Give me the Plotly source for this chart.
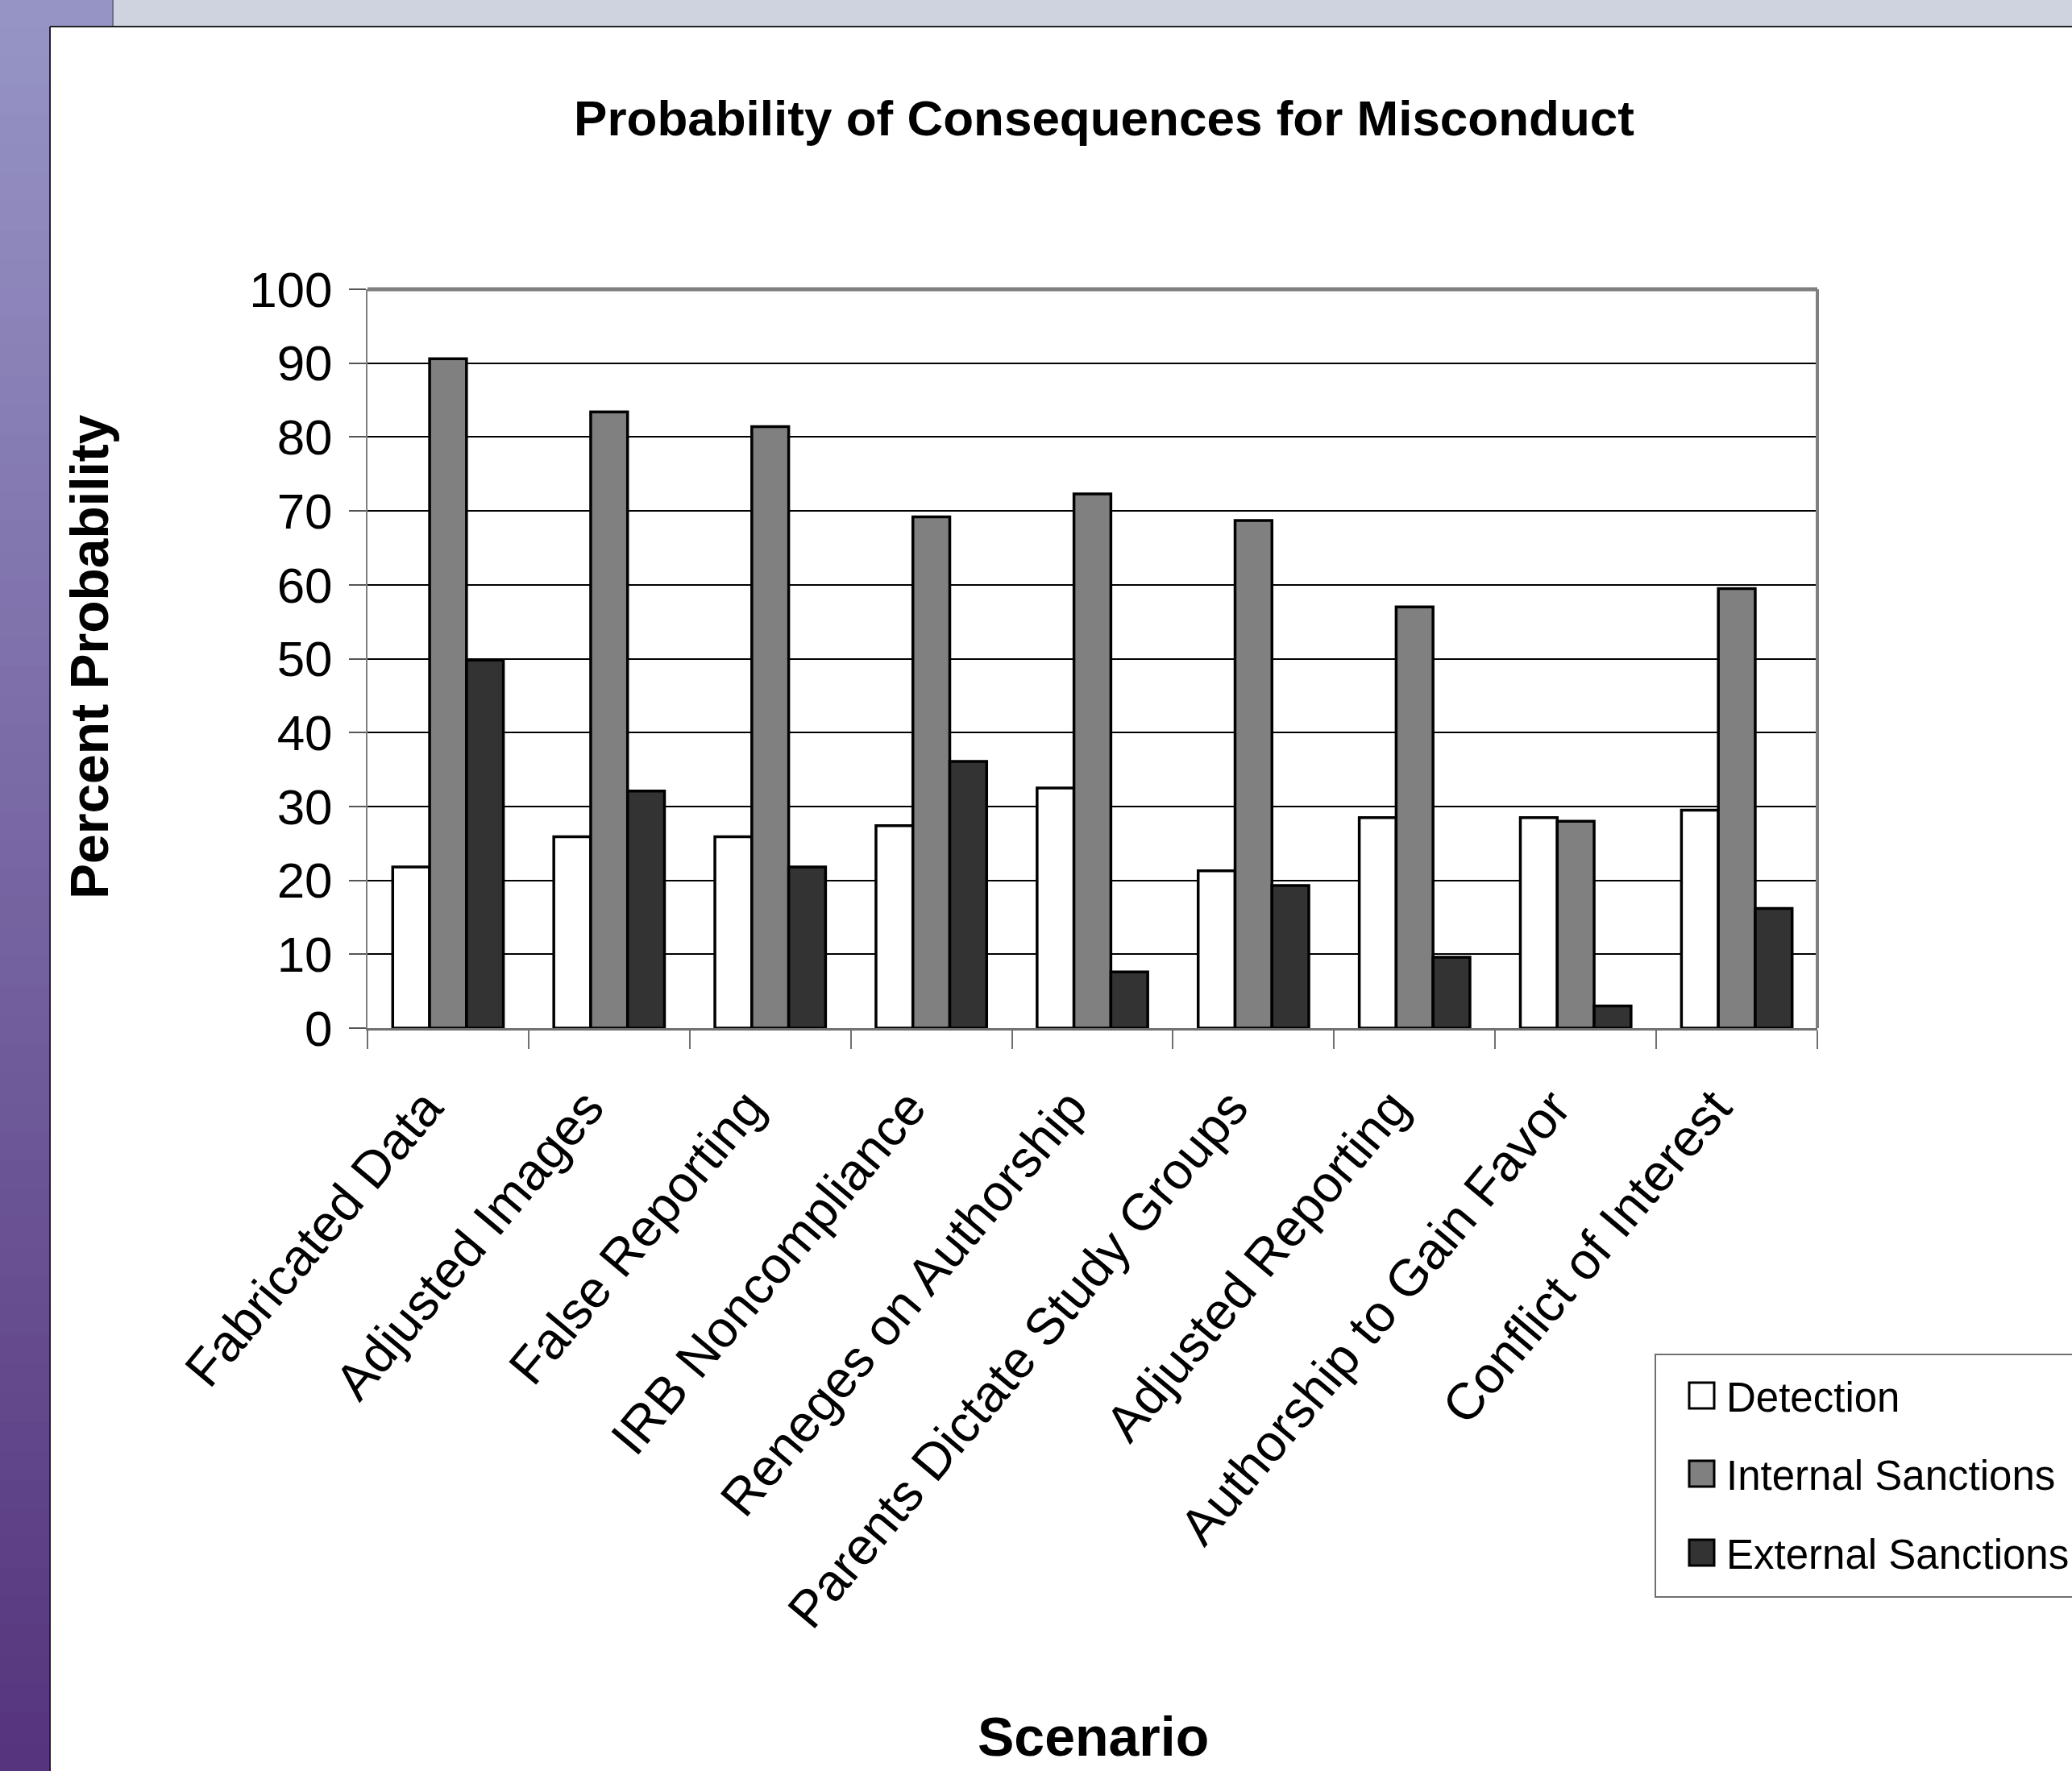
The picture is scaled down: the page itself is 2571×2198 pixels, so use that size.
import plotly.graph_objects as go

# ---------------- data ----------------
categories = ["Fabricated Data", "Adjusted Images", "False Reporting", "IRB Noncompliance",
              "Reneges on Authorship", "Parents Dictate Study Groups", "Adjusted Reporting",
              "Authorship to Gain Favor", "Conflict of Interest"]
detection = [21.8, 25.9, 25.9, 27.4, 32.5, 21.3, 28.5, 28.5, 29.5]
internal_sanctions = [90.6, 83.4, 81.4, 69.2, 72.3, 68.7, 57.0, 28.0, 59.5]
external_sanctions = [49.8, 32.1, 21.8, 36.1, 7.6, 19.3, 9.6, 3.0, 16.2]
series_names = ["Detection", "Internal Sanctions", "External Sanctions"]
series_colors = ["#FFFFFF", "#808080", "#333333"]
y_ticks = [0, 10, 20, 30, 40, 50, 60, 70, 80, 90, 100]

# ---------------- geometry (pixels) ----------------
FW, FH = 2571, 2198
L, R, T, B = 456, 2255, 359, 1276
W, H = R - L, B - T

def px_x(x):
    return (x - L) / W

def px_y(y):
    return (B - y) / H

NARROW = "Liberation Sans Narrow, Arial Narrow, Liberation Sans, Arial, sans-serif"
REG = "Liberation Sans, Arial, sans-serif"

fig = go.Figure()
for name, vals, col in zip(series_names, [detection, internal_sanctions, external_sanctions], series_colors):
    fig.add_trace(go.Bar(
        x=categories, y=vals, name=name, showlegend=False,
        marker=dict(color=col, line=dict(color="#000000", width=3.5)),
    ))

shapes = []

# left purple gradient strip
n = 60
top_c = (0x96, 0x93, 0xC5)
bot_c = (0x55, 0x34, 0x7D)
for i in range(n):
    y0 = 33 + (FH - 33) * i / n
    y1 = 33 + (FH - 33) * (i + 1) / n + 1
    t = (i + 0.5) / n
    c = tuple(int(round(a + (b - a) * t)) for a, b in zip(top_c, bot_c))
    shapes.append(dict(type="rect", xref="paper", yref="paper", layer="below",
                       x0=px_x(0), x1=px_x(62), y0=px_y(y0), y1=px_y(y1),
                       fillcolor="rgb(%d,%d,%d)" % c, line=dict(width=0)))
# top-left square and top strip
shapes.append(dict(type="rect", xref="paper", yref="paper", layer="below",
                   x0=px_x(0), x1=px_x(140), y0=px_y(0), y1=px_y(34),
                   fillcolor="#9694C5", line=dict(width=0)))
shapes.append(dict(type="rect", xref="paper", yref="paper", layer="below",
                   x0=px_x(140), x1=px_x(FW), y0=px_y(0), y1=px_y(33),
                   fillcolor="#CED3DF", line=dict(width=0)))
shapes.append(dict(type="line", xref="paper", yref="paper", layer="below",
                   x0=px_x(140), x1=px_x(140), y0=px_y(0), y1=px_y(33),
                   line=dict(color="#6A7088", width=2)))
# slide border
shapes.append(dict(type="line", xref="paper", yref="paper", layer="below",
                   x0=px_x(62), x1=px_x(FW), y0=px_y(33), y1=px_y(33),
                   line=dict(color="#222222", width=2)))
shapes.append(dict(type="line", xref="paper", yref="paper", layer="below",
                   x0=px_x(62), x1=px_x(62), y0=px_y(33), y1=px_y(FH),
                   line=dict(color="#222222", width=2)))
# plot area border (top/right, gray)
shapes.append(dict(type="line", xref="paper", yref="paper", layer="above",
                   x0=0, x1=1, y0=1, y1=1, line=dict(color="#808080", width=5)))
shapes.append(dict(type="line", xref="paper", yref="paper", layer="above",
                   x0=1, x1=1, y0=0, y1=1, line=dict(color="#808080", width=4)))

# legend box (manual, to match large symbols)
shapes.append(dict(type="rect", xref="paper", yref="paper", layer="above",
                   x0=px_x(2054), x1=px_x(FW + 40), y0=px_y(1982), y1=px_y(1681),
                   fillcolor="#FFFFFF", line=dict(color="#707070", width=2)))
annotations = []
row_y = [1732, 1829, 1927]
for name, col, yc in zip(series_names, series_colors, row_y):
    shapes.append(dict(type="rect", xref="paper", yref="paper", layer="above",
                       x0=px_x(2096), x1=px_x(2127), y0=px_y(yc + 16), y1=px_y(yc - 16),
                       fillcolor=col, line=dict(color="#000000", width=3)))
    annotations.append(dict(xref="paper", yref="paper", x=px_x(2140), y=px_y(yc + 2),
                            xanchor="left", yanchor="middle", showarrow=False,
                            text=name, font=dict(family=NARROW, size=51, color="#000000")))

# axis titles
annotations.append(dict(xref="paper", yref="paper", x=px_x(111), y=px_y(815),
                        xanchor="center", yanchor="middle", showarrow=False, textangle=-90,
                        text="<b>Percent Probability</b>",
                        font=dict(family=REG, size=66, color="#000000")))
annotations.append(dict(xref="paper", yref="paper", x=px_x(1356), y=px_y(2155),
                        xanchor="center", yanchor="middle", showarrow=False,
                        text="<b>Scenario</b>",
                        font=dict(family=NARROW, size=68, color="#000000")))

fig.update_layout(
    width=FW, height=FH, autosize=False,
    margin=dict(l=L, r=FW - R, t=T, b=FH - B, autoexpand=False),
    paper_bgcolor="#FFFFFF", plot_bgcolor="#FFFFFF",
    barmode="group", bargap=0.313, bargroupgap=0,
    title=dict(text="<b>Probability of Consequences for Misconduct</b>",
               xref="container", yref="container", x=1370 / FW, y=1 - 146 / FH,
               xanchor="center", yanchor="middle",
               font=dict(family=NARROW, size=62, color="#000000")),
    shapes=shapes, annotations=annotations, showlegend=False,
)
fig.update_xaxes(
    type="category", automargin=False, tickangle=-50,
    tickfont=dict(family=REG, size=64, color="#000000"),
    ticklabelshift=-28, ticklabelstandoff=32,
    showline=True, linecolor="#707070", linewidth=3,
    ticks="outside", tickson="boundaries", ticklen=23, tickcolor="#707070", tickwidth=2,
    showgrid=False,
)
fig.update_yaxes(
    range=[0, 100], tickvals=y_ticks, automargin=False,
    tickfont=dict(family=NARROW, size=62, color="#000000"),
    ticklabelstandoff=8,
    showline=True, linecolor="#808080", linewidth=2,
    ticks="outside", ticklen=21, tickcolor="#555555", tickwidth=2,
    showgrid=True, gridcolor="#000000", gridwidth=1.5, zeroline=False,
)

fig.write_html("out.html", post_script="document.body.style.margin='0px';",
               config={"displayModeBar": False})
